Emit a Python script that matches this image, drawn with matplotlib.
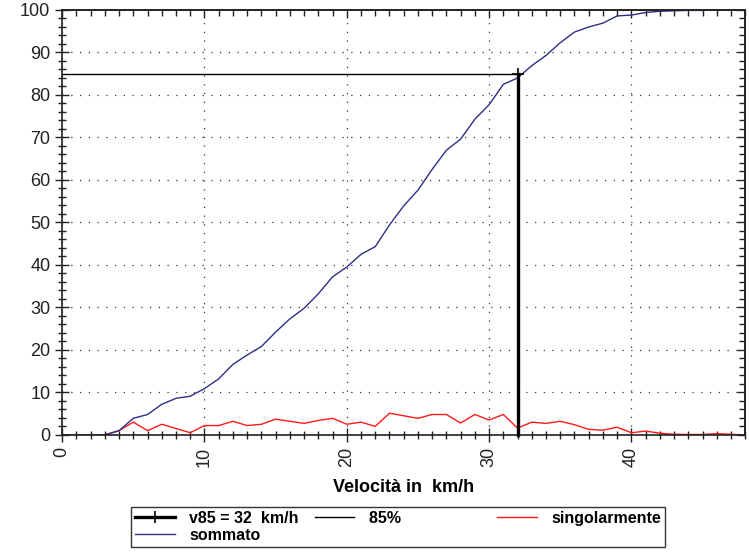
import numpy as np
import matplotlib
matplotlib.use('Agg')
import matplotlib.pyplot as plt
from matplotlib.ticker import MultipleLocator

plt.rcParams['font.family'] = ['Liberation Sans', 'DejaVu Sans']

# Data
velocita = list(range(0, 49))
singolarmente = [0, 0, 0, 0, 1.0, 3.0, 1.0, 2.5, 1.5, 0.5,
                 2.2, 2.2, 3.2, 2.2, 2.5, 3.7, 3.2, 2.7, 3.4, 3.9,
                 2.5, 3.0, 2.0, 5.1, 4.5, 3.9, 4.8, 4.8, 2.8, 4.8,
                 3.5, 4.8, 1.6, 3.0, 2.7, 3.2, 2.4, 1.3, 1.1, 1.8,
                 0.5, 0.9, 0.4, 0.15, 0.1, 0.1, 0.3, 0.15, 0.0]
sommato = [0, 0, 0, 0, 1.0, 3.9, 4.8, 7.2, 8.6, 9.1,
           10.9, 13.2, 16.6, 18.8, 20.8, 24.2, 27.3, 29.8, 33.2, 37.2,
           39.5, 42.5, 44.3, 49.4, 53.9, 57.6, 62.5, 67.0, 69.6, 74.3,
           77.7, 82.5, 84.0, 86.9, 89.3, 92.3, 94.8, 96.0, 96.9, 98.6,
           98.8, 99.4, 99.7, 99.8, 99.9, 99.9, 100.0, 100.0, 100.0]
v85 = 32
p85 = 85

navy = '#2e2e86'
red = '#ff1a1a'
dark = '#222222'

fig = plt.figure(figsize=(7.49, 5.54), dpi=100)
ax = fig.add_axes([0.083, 0.215, 0.912, 0.767])

l_v85, = ax.plot([v85, v85], [0, p85], color='black', lw=2.4, marker='+',
                 markersize=9, markeredgewidth=1.2, markevery=[1], zorder=5,
                 label='v85 = 32  km/h', clip_on=False)
l_85, = ax.plot([0, v85], [p85, p85], color='black', lw=1.0, zorder=4, label='85%')
l_sing, = ax.plot(velocita, singolarmente, color=red, lw=1.0, label='singolarmente')
l_somm, = ax.plot(velocita, sommato, color=navy, lw=1.0, label='sommato')

ax.set_xlim(0, 48)
ax.set_ylim(0, 100)
ax.xaxis.set_major_locator(MultipleLocator(10))
ax.xaxis.set_minor_locator(MultipleLocator(1))
ax.yaxis.set_major_locator(MultipleLocator(10))
ax.yaxis.set_minor_locator(MultipleLocator(2))

ax.grid(True, which='major', linestyle=(0, (1, 6)), color='#333333', lw=0.9)

ax.tick_params(axis='both', which='major', direction='inout', length=10,
               width=1.0, labelsize=13, colors=dark)
ax.tick_params(axis='both', which='minor', direction='inout', length=6,
               width=1.0, colors=dark)
for lab in ax.get_xticklabels():
    lab.set_rotation(90)

# top / right: inward ticks only
top = ax.secondary_xaxis('top')
top.xaxis.set_major_locator(MultipleLocator(10))
top.xaxis.set_minor_locator(MultipleLocator(1))
top.tick_params(which='major', direction='in', length=6, width=1.0, labeltop=False, colors=dark)
top.tick_params(which='minor', direction='in', length=4, width=1.0, colors=dark)
right = ax.secondary_yaxis('right')
right.yaxis.set_major_locator(MultipleLocator(10))
right.yaxis.set_minor_locator(MultipleLocator(2))
right.tick_params(which='major', direction='in', length=6, width=1.0, labelright=False, colors=dark)
right.tick_params(which='minor', direction='in', length=4, width=1.0, colors=dark)

for a in (ax, top, right):
    for s in a.spines.values():
        s.set_linewidth(1.2)
        s.set_color(dark)

ax.set_xlabel('Velocità in  km/h', fontsize=13, fontweight='bold', labelpad=9)

leg = fig.legend(handles=[l_v85, l_somm, l_85, l_sing],
                 labels=['v85 = 32  km/h', 'sommato',
                         '85%' + '\u2007' * 9, 'singolarmente'],
                 ncol=3, loc='center', bbox_to_anchor=(0.531, 0.049),
                 frameon=True, fancybox=False, edgecolor='black',
                 prop={'weight': 'bold', 'size': 11.5},
                 handlelength=2.5, handletextpad=0.9, columnspacing=1.0,
                 borderpad=0.25, labelspacing=0.15, borderaxespad=0)
leg.get_frame().set_linewidth(1.0)

fig.savefig('out.png', dpi=100)
